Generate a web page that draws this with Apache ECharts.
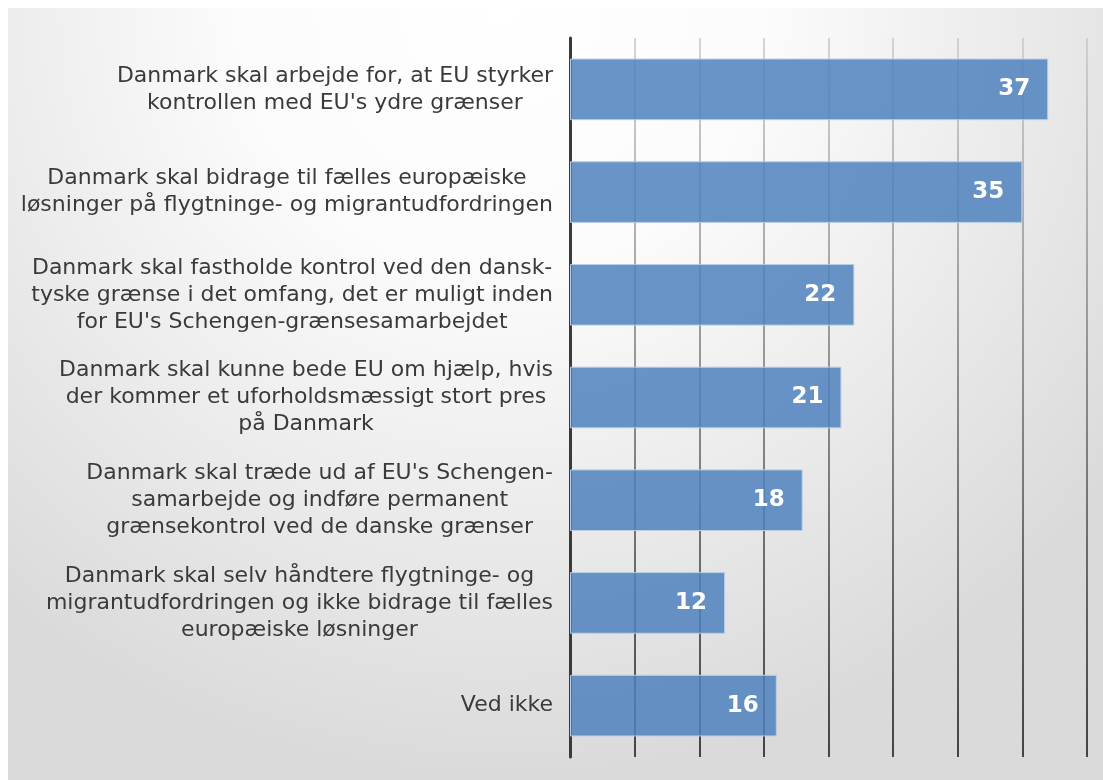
<!DOCTYPE html>
<html>
<head>
<meta charset="utf-8">
<style>
  html, body { margin: 0; padding: 0; background: #ffffff; }
  #chart { width: 1103px; height: 780px; }
</style>
<script src="https://cdn.jsdelivr.net/npm/echarts@6/dist/echarts.min.js"></script>
</head>
<body>
<div id="chart"></div>
<script>
// kategorier (linjeskift som i originalen)
const categories = [
  "Danmark skal arbejde for, at EU styrker\nkontrollen med EU's ydre grænser",
  "Danmark skal bidrage til fælles europæiske\nløsninger på flygtninge- og migrantudfordringen",
  "Danmark skal fastholde kontrol ved den dansk-\ntyske grænse i det omfang, det er muligt inden\nfor EU's Schengen-grænsesamarbejdet",
  "Danmark skal kunne bede EU om hjælp, hvis\nder kommer et uforholdsmæssigt stort pres\npå Danmark",
  "Danmark skal træde ud af EU's Schengen-\nsamarbejde og indføre permanent\ngrænsekontrol ved de danske grænser",
  "Danmark skal selv håndtere flygtninge- og\nmigrantudfordringen og ikke bidrage til fælles\neuropæiske løsninger",
  "Ved ikke"
]
const values = [37, 35, 22, 21, 18, 12, 16]
const axisMin = 0
const axisMax = 40
const axisStep = 5

const chart = echarts.init(document.getElementById('chart'))

chart.setOption({
  animation: false,
  graphic: [{
    type: 'rect',
    z: -10,
    silent: true,
    shape: { x: 8, y: 8, width: 1095, height: 772 },
    style: {
      fill: {
        type: 'radial',
        x: 0.45, y: 0.0, r: 1.0,
        colorStops: [
          { offset: 0, color: '#ffffff' },
          { offset: 0.35, color: '#fbfbfb' },
          { offset: 1, color: '#dadada' }
        ]
      }
    }
  }],
  grid: {
    left: 570,
    right: 16,
    top: 38,
    bottom: 23
  },
  xAxis: {
    type: 'value',
    min: axisMin,
    max: axisMax,
    interval: axisStep,
    axisLabel: { show: false },
    axisLine: { show: false },
    axisTick: { show: false },
    splitLine: {
      show: true,
      lineStyle: {
        width: 1.5,
        color: {
          type: 'linear',
          x: 0, y: 38, x2: 0, y2: 757,
          global: true,
          colorStops: [
            { offset: 0, color: '#c8c8c8' },
            { offset: 1, color: '#111111' }
          ]
        }
      }
    }
  },
  yAxis: {
    type: 'category',
    inverse: true,
    data: categories,
    axisLine: {
      show: true,
      onZero: false,
      lineStyle: { color: '#3a3a3a', width: 3 }
    },
    axisTick: { show: false },
    axisLabel: {
      margin: 17,
      fontFamily: 'DejaVu Sans',
      fontSize: 22,
      lineHeight: 27,
      color: '#3a3a3a',
      formatter: function (val) {
        return val.split('\n').map(function (l) { return '{c|' + l + '}' }).join('\n')
      },
      rich: {
        c: {
          align: 'center',
          fontFamily: 'DejaVu Sans',
          fontSize: 22,
          lineHeight: 27,
          color: '#3a3a3a'
        }
      }
    }
  },
  series: [{
    type: 'bar',
    data: values,
    barCategoryGap: '40%',
    itemStyle: {
      color: 'rgba(79,129,189,0.85)',
      borderColor: '#b9cde6',
      borderWidth: 1
    },
    label: {
      show: true,
      position: 'insideRight',
      distance: 18,
      color: '#ffffff',
      fontFamily: 'DejaVu Sans',
      fontWeight: 'bold',
      fontSize: 23
    }
  }]
})
</script>
</body>
</html>
